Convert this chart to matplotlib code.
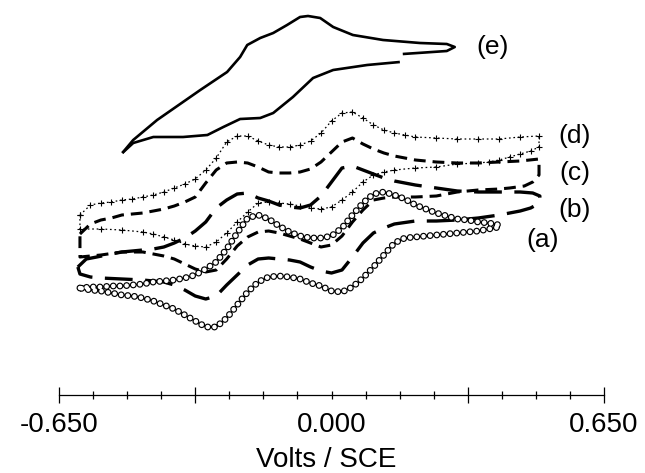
import numpy as np
import matplotlib.pyplot as plt

plt.rcParams["font.family"] = ["Liberation Sans", "DejaVu Sans"]
plt.rcParams["lines.scale_dashes"] = False

# Potentials (V vs SCE) and currents (arbitrary units, curves offset)
# (a) open circles
a_fwd_v = [-0.600, -0.575, -0.550, -0.525, -0.500, -0.475, -0.450, -0.425, -0.400,
           -0.375, -0.350, -0.325, -0.300, -0.275, -0.250, -0.225, -0.200, -0.175,
           -0.150, -0.125, -0.100, -0.075, -0.050, -0.025, 0.000, 0.025, 0.050,
           0.075, 0.100, 0.125, 0.150, 0.175, 0.200, 0.225, 0.250, 0.275, 0.300,
           0.325, 0.350, 0.375, 0.400]
a_fwd_i = [10.7, 10.8, 10.8, 10.9, 10.9, 11.0, 11.1, 11.3, 11.4,
           11.5, 11.7, 12.0, 12.6, 13.3, 14.6, 16.2, 17.7, 18.0,
           17.6, 16.9, 16.3, 15.9, 15.7, 15.7, 15.9, 16.7, 18.0,
           19.2, 20.1, 20.3, 20.0, 19.6, 19.0, 18.6, 18.2, 17.9, 17.6,
           17.5, 17.3, 17.2, 17.0]
a_rev_v = [0.400, 0.375, 0.350, 0.325, 0.300, 0.275, 0.250, 0.225, 0.200, 0.175,
           0.150, 0.125, 0.100, 0.075, 0.050, 0.025, 0.000, -0.025, -0.050,
           -0.075, -0.100, -0.125, -0.150, -0.175, -0.200, -0.225, -0.250,
           -0.275, -0.300, -0.325, -0.350, -0.375, -0.400, -0.425, -0.450,
           -0.475, -0.500, -0.525, -0.550, -0.575, -0.600]
a_rev_i = [16.8, 16.6, 16.4, 16.3, 16.2, 16.1, 16.0, 15.9, 15.8, 15.7,
           15.2, 14.0, 12.8, 11.7, 10.8, 10.3, 10.4, 10.9, 11.2,
           11.6, 11.8, 11.9, 11.8, 11.3, 10.3, 9.0, 7.7,
           6.8, 6.8, 7.4, 8.0, 8.6, 9.0, 9.4, 9.7,
           9.9, 10.0, 10.2, 10.4, 10.5, 10.7]

# (b) long dashes
b_fwd_v = [-0.605, -0.585, -0.560, -0.525, -0.500, -0.475, -0.450, -0.425, -0.400,
           -0.375, -0.350, -0.325, -0.300, -0.275, -0.250, -0.225, -0.200, -0.175,
           -0.150, -0.125, -0.100, -0.075, -0.050, -0.025, 0.000, 0.025, 0.050,
           0.075, 0.100, 0.125, 0.150, 0.200, 0.250, 0.300, 0.350, 0.400, 0.450,
           0.480, 0.497]
b_fwd_i = [12.8, 13.6, 13.8, 14.1, 14.3, 14.4, 14.5, 14.6, 14.8,
           15.2, 15.7, 16.4, 17.3, 18.7, 19.5, 20.1, 20.2, 19.7,
           19.4, 19.0, 18.8, 18.7, 19.0, 19.9, 21.3, 22.7, 22.9,
           22.5, 22.1, 21.7, 21.4, 21.0, 20.7, 20.4, 20.3, 20.3, 20.3,
           20.2, 19.9]
b_rev_v = [0.497, 0.475, 0.450, 0.400, 0.350, 0.300, 0.250, 0.200, 0.150, 0.125,
           0.100, 0.075, 0.050, 0.025, 0.000, -0.025, -0.050, -0.075, -0.100,
           -0.125, -0.150, -0.175, -0.200, -0.225, -0.250, -0.275, -0.300,
           -0.325, -0.350, -0.375, -0.400, -0.450, -0.500, -0.550, -0.575, -0.600,
           -0.605]
b_rev_i = [19.2, 18.7, 18.4, 18.0, 17.7, 17.5, 17.4, 17.4, 17.1, 16.7,
           16.2, 15.2, 13.8, 12.5, 12.2, 12.4, 12.8, 13.3, 13.5,
           13.6, 13.7, 13.6, 13.0, 12.0, 11.0, 9.9, 9.6,
           9.9, 10.5, 11.0, 11.3, 11.5, 11.6, 11.7, 11.8, 12.1,
           12.8]

# (c) short dashes
c_fwd_v = [-0.600, -0.575, -0.550, -0.525, -0.500, -0.475, -0.450, -0.425, -0.400,
           -0.375, -0.350, -0.325, -0.300, -0.275, -0.250, -0.225, -0.200, -0.175,
           -0.150, -0.125, -0.100, -0.075, -0.050, -0.025, 0.000, 0.025, 0.050,
           0.075, 0.100, 0.125, 0.150, 0.200, 0.250, 0.300, 0.350, 0.400, 0.450,
           0.495]
c_fwd_i = [16.1, 17.1, 17.5, 17.7, 18.0, 18.1, 18.2, 18.4, 18.6,
           18.9, 19.3, 19.8, 21.2, 22.5, 23.2, 23.3, 23.2, 22.8,
           22.3, 22.2, 22.2, 22.3, 22.6, 23.3, 24.3, 25.3, 25.7,
           25.1, 24.6, 24.2, 23.9, 23.5, 23.3, 23.2, 23.2, 23.3, 23.4,
           23.6]
c_rev_v = [0.495, 0.480, 0.460, 0.425, 0.400, 0.350, 0.300, 0.250, 0.200, 0.150,
           0.125, 0.100, 0.075, 0.050, 0.025, 0.000, -0.025, -0.050, -0.075,
           -0.100, -0.125, -0.150, -0.175, -0.200, -0.225, -0.250, -0.275,
           -0.300, -0.325, -0.350, -0.375, -0.400, -0.425, -0.450, -0.500,
           -0.550, -0.600, -0.600]
c_rev_i = [22.0, 21.3, 20.9, 20.7, 20.6, 20.5, 20.3, 19.9, 19.8, 19.8,
           19.7, 19.5, 18.5, 17.3, 15.9, 15.0, 14.8, 15.2, 15.6,
           15.9, 16.2, 16.4, 16.3, 15.8, 14.9, 13.6, 12.5,
           12.3, 12.6, 13.1, 13.6, 13.9, 14.1, 14.3, 14.3,
           14.0, 13.8, 16.1]

# (d) crosses
d_fwd_v = [-0.600, -0.575, -0.550, -0.525, -0.500, -0.475, -0.450, -0.425, -0.400,
           -0.375, -0.350, -0.325, -0.300, -0.275, -0.250, -0.225, -0.200, -0.175,
           -0.150, -0.125, -0.100, -0.075, -0.050, -0.025, 0.000, 0.025, 0.050,
           0.075, 0.100, 0.125, 0.150, 0.175, 0.200, 0.250, 0.300, 0.350, 0.400,
           0.450, 0.495]
d_fwd_i = [18.0, 19.0, 19.2, 19.3, 19.5, 19.6, 19.8, 20.0, 20.3,
           20.7, 21.1, 21.6, 22.5, 23.7, 25.3, 25.9, 25.9, 25.4,
           25.0, 24.8, 24.8, 25.0, 25.4, 26.2, 27.4, 28.2, 28.3,
           27.7, 27.0, 26.5, 26.2, 26.0, 25.8, 25.7, 25.6, 25.6, 25.6,
           25.8, 25.9]
d_rev_v = [0.495, 0.475, 0.450, 0.425, 0.400, 0.375, 0.350, 0.300, 0.250, 0.200,
           0.150, 0.125, 0.100, 0.075, 0.050, 0.025, 0.000, -0.025, -0.050,
           -0.075, -0.100, -0.125, -0.150, -0.175, -0.200, -0.225, -0.250,
           -0.275, -0.300, -0.325, -0.350, -0.375, -0.400, -0.425, -0.450,
           -0.500, -0.550, -0.600, -0.600]
d_rev_i = [24.8, 24.4, 24.1, 23.8, 23.5, 23.3, 23.2, 23.1, 22.8, 22.7,
           22.5, 22.3, 22.0, 21.3, 20.3, 19.5, 18.8, 18.6, 18.7,
           18.9, 19.1, 19.2, 19.3, 19.2, 18.3, 17.3, 16.2,
           15.3, 14.8, 14.9, 15.1, 15.5, 15.8, 16.1, 16.3,
           16.5, 16.6, 16.6, 18.0]

# (e) solid line
e_fwd_v = [-0.499, -0.473, -0.416, -0.313, -0.249, -0.218, -0.201, -0.170, -0.139,
           -0.106, -0.075, -0.056, -0.027, 0.004, 0.051, 0.123, 0.211, 0.275,
           0.294, 0.275, 0.223, 0.170]
e_fwd_i = [24.2, 25.5, 27.5, 30.5, 32.3, 33.8, 35.0, 35.7, 36.2,
           37.0, 37.8, 37.9, 37.7, 36.8, 36.0, 35.5, 35.2, 35.1,
           34.8, 34.4, 34.25, 34.1]
e_rev_v = [0.163, 0.085, 0.004, -0.044, -0.092, -0.139, -0.170, -0.218, -0.258,
           -0.296, -0.354, -0.425, -0.473, -0.499]
e_rev_i = [33.3, 33.0, 32.5, 31.7, 29.8, 28.2, 27.7, 27.6, 26.8,
           26.0, 25.8, 25.8, 25.2, 24.2]

curve_labels = ["(a)", "(b)", "(c)", "(d)", "(e)"]
tick_labels = ["-0.650", "0.000", "0.650"]
tick_values = [-0.65, 0.0, 0.65]

fig = plt.figure(figsize=(6.45, 4.73), dpi=100)
ax = fig.add_axes([59 / 645, 78 / 473, 545 / 645, 395 / 473])
ax.set_xlim(-0.65, 0.65)
ax.set_ylim(0, 39.5)

# (e)
ax.plot(e_fwd_v, e_fwd_i, color="black", lw=1.9, solid_capstyle="butt")
ax.plot(e_rev_v, e_rev_i, color="black", lw=1.9, solid_capstyle="butt")

# (d) crosses with dotted trace
d_v = d_fwd_v + d_rev_v
d_i = d_fwd_i + d_rev_i
ax.plot(d_v, d_i, color="black", lw=0.9, ls=(0, (1.2, 2.0)))
ax.plot(d_v, d_i, color="black", lw=0, marker="+", ms=4, mew=0.8)

# (c) short dashes
ax.plot(c_fwd_v + c_rev_v, c_fwd_i + c_rev_i, color="black", lw=2.2,
        ls=(0, (8.5, 5.0)))

# (b) long dashes
ax.plot(b_fwd_v + b_rev_v, b_fwd_i + b_rev_i, color="black", lw=2.4,
        ls=(0, (20.0, 9.0)))

# (a) open circles: ring-shaped dots along the trace
a_v = a_fwd_v + a_rev_v
a_i = a_fwd_i + a_rev_i
ax.plot(a_v, a_i, color="black", lw=5.0, ls=(0, (0.01, 4.8)),
        dash_capstyle="round")
ax.plot(a_v, a_i, color="white", lw=3.3, ls=(0, (0.01, 4.8)),
        dash_capstyle="round")

# curve labels
lab_kw = dict(fontsize=19, ha="center", va="center")
ax.text(0.504, 15.5, curve_labels[0], **lab_kw)
ax.text(0.580, 18.5, curve_labels[1], **lab_kw)
ax.text(0.580, 22.2, curve_labels[2], **lab_kw)
ax.text(0.580, 25.9, curve_labels[3], **lab_kw)
ax.text(0.384, 34.8, curve_labels[4], **lab_kw)

# axis
for s in ["left", "right", "top"]:
    ax.spines[s].set_visible(False)
ax.spines["bottom"].set_linewidth(0.9)
ax.set_yticks([])
ax.set_xticks([-0.65, -0.325, 0.325, 0.65])
ax.set_xticklabels([])
ax.set_xticks(np.linspace(-0.65, 0.65, 17), minor=True)
ax.tick_params(axis="x", which="major", direction="inout", length=11, width=0.9)
ax.tick_params(axis="x", which="minor", direction="inout", length=6, width=0.9)

for p, t in zip(tick_values, tick_labels):
    ax.text(p, -0.076, t, transform=ax.get_xaxis_transform(), fontsize=20,
            ha="center", va="center")
ax.text(-0.013, -0.165, "Volts / SCE", transform=ax.get_xaxis_transform(),
        fontsize=20, ha="center", va="center")

fig.savefig("out.png", dpi=100)
